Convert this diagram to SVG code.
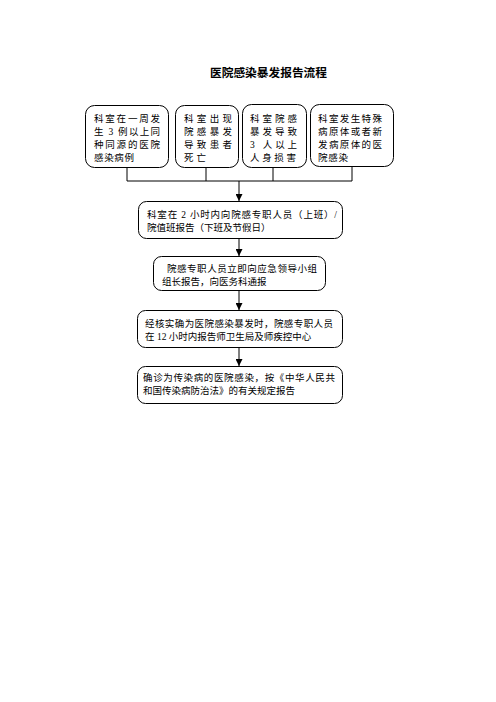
<svg xmlns="http://www.w3.org/2000/svg" width="496" height="702" viewBox="0 0 496 702">
  <style>
    .box { fill: #ffffff; stroke: #000000; stroke-width: 1; }
    .t { font-family: "Liberation Serif", "Noto Sans CJK SC", serif; font-size: 9.5px; fill: #000000; }
    .title { font-family: "Liberation Sans", "Noto Sans CJK SC", sans-serif; font-size: 11.5px; font-weight: bold; fill: #000000; }
    .line { fill: none; stroke: #000000; stroke-width: 1; }
  </style>
  <defs>
    <marker id="arrow" viewBox="0 0 8 8" refX="8" refY="4" markerWidth="7" markerHeight="7" markerUnits="userSpaceOnUse" orient="auto">
      <path d="M0,0 L8,4 L0,8 Z" fill="#000000"/>
    </marker>
  </defs>
  <rect width="496" height="702" fill="#ffffff"/>

  <text class="title" x="210" y="77" textLength="117" lengthAdjust="spacingAndGlyphs">医院感染暴发报告流程</text>

  <g id="connectors">
    <path class="line" d="M127,167 V181 M206,168 V181 M273,168 V181 M352,167 V181 M127,181 H352"/>
    <path class="line" d="M239,181 V201" marker-end="url(#arrow)"/>
    <path class="line" d="M239,238 V256" marker-end="url(#arrow)"/>
    <path class="line" d="M239,291 V310" marker-end="url(#arrow)"/>
    <path class="line" d="M239,348 V366" marker-end="url(#arrow)"/>
  </g>

  <g id="node-cluster">
    <rect class="box" x="85.5" y="105.5" width="83" height="62" rx="9"/>
    <text class="t" x="94" y="121.5" textLength="66" lengthAdjust="spacing">科室在一周发</text>
    <text class="t" x="94" y="134.5" textLength="66" lengthAdjust="spacing">生 3 例以上同</text>
    <text class="t" x="94" y="147.5" textLength="66" lengthAdjust="spacing">种同源的医院</text>
    <text class="t" x="94" y="160.5" textLength="40" lengthAdjust="spacing">感染病例</text>
  </g>

  <g id="node-death">
    <rect class="box" x="175.5" y="105.5" width="63" height="62" rx="9"/>
    <text class="t" x="184" y="121.5" textLength="48" lengthAdjust="spacing">科室出现</text>
    <text class="t" x="184" y="134.5" textLength="48" lengthAdjust="spacing">院感暴发</text>
    <text class="t" x="184" y="147.5" textLength="48" lengthAdjust="spacing">导致患者</text>
    <text class="t" x="184" y="160.5" textLength="22" lengthAdjust="spacing">死亡</text>
  </g>

  <g id="node-injury">
    <rect class="box" x="242.5" y="104.5" width="64" height="63" rx="9"/>
    <text class="t" x="250" y="121.5" textLength="47" lengthAdjust="spacing">科室院感</text>
    <text class="t" x="250" y="134.5" textLength="47" lengthAdjust="spacing">暴发导致</text>
    <text class="t" x="250" y="147.5" textLength="47" lengthAdjust="spacing">3 人以上</text>
    <text class="t" x="250" y="160.5" textLength="46" lengthAdjust="spacing">人身损害</text>
  </g>

  <g id="node-pathogen">
    <rect class="box" x="310.5" y="104.5" width="83" height="62" rx="9"/>
    <text class="t" x="318" y="121.5" textLength="64" lengthAdjust="spacing">科室发生特殊</text>
    <text class="t" x="318" y="134.5" textLength="64" lengthAdjust="spacing">病原体或者新</text>
    <text class="t" x="318" y="147.5" textLength="64" lengthAdjust="spacing">发病原体的医</text>
    <text class="t" x="318" y="160.5" textLength="30" lengthAdjust="spacing">院感染</text>
  </g>

  <g id="node-report-2h">
    <rect class="box" x="138.5" y="201.5" width="204" height="37" rx="8"/>
    <text class="t" x="147" y="217.5" textLength="190" lengthAdjust="spacing">科室在 2 小时内向院感专职人员（上班）/</text>
    <text class="t" x="147" y="230.5">院值班报告（下班及节假日）</text>
  </g>

  <g id="node-notify">
    <rect class="box" x="153.5" y="256.5" width="172" height="34" rx="8"/>
    <text class="t" x="167" y="272" textLength="150" lengthAdjust="spacing">院感专职人员立即向应急领导小组</text>
    <text class="t" x="162" y="285">组长报告，向医务科通报</text>
  </g>

  <g id="node-report-12h">
    <rect class="box" x="137.5" y="310.5" width="205" height="37" rx="8"/>
    <text class="t" x="145" y="326.5" textLength="188" lengthAdjust="spacing">经核实确为医院感染暴发时，院感专职人员</text>
    <text class="t" x="145" y="339.5">在 12 小时内报告师卫生局及师疾控中心</text>
  </g>

  <g id="node-infectious">
    <rect class="box" x="137.5" y="366.5" width="205" height="37" rx="8"/>
    <text class="t" x="143" y="380.5" textLength="192" lengthAdjust="spacing">确诊为传染病的医院感染，按《中华人民共</text>
    <text class="t" x="143" y="393.5">和国传染病防治法》的有关规定报告</text>
  </g>
</svg>
